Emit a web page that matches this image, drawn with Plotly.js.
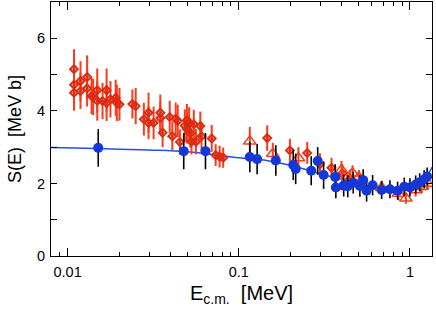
<!DOCTYPE html>
<html>
<head>
<meta charset="utf-8">
<script src="https://cdn.plot.ly/plotly-3.0.1.min.js"></script>
<style>html,body{margin:0;padding:0;background:#fff;}#chart{width:436px;height:311px;}</style>
</head>
<body>
<div id="chart"></div>
<script>
// Red diamonds
const diamondE = [0.0109,0.0109,0.0109,0.0119,0.0119,0.0130,0.0130,0.0138,0.0141,0.0149,0.0149,0.0160,0.0169,0.0169,0.0178,0.0191,0.0194,0.0201,0.0239,0.0250,0.0279,0.0297,0.0297,0.0318,0.0348,0.0348,0.0359,0.0395,0.0409,0.0428,0.0440,0.0453,0.0484,0.0498,0.0498,0.0513,0.0521,0.0529,0.0546,0.0562,0.0596,0.0606,0.0695,0.0733,0.0773,0.0811,0.1465,0.199,0.251,0.298,0.348,0.403,0.446];
const diamondS = [5.15,4.72,4.50,4.82,4.55,4.93,4.62,4.41,4.38,4.57,4.28,4.27,4.57,4.22,4.32,4.36,4.22,4.18,4.19,4.13,3.77,3.95,3.67,3.67,3.95,3.80,3.40,3.83,3.30,3.78,3.72,3.14,3.59,3.74,3.50,3.65,3.39,3.15,3.63,3.15,3.58,3.30,3.24,2.78,2.74,2.71,3.25,2.91,2.84,2.53,2.43,2.28,2.13];
const diamondErr = [0.55,0.5,0.5,0.55,0.5,0.6,0.5,0.5,0.5,0.6,0.55,0.5,0.6,0.5,0.5,0.5,0.5,0.45,0.4,0.5,0.45,0.55,0.45,0.45,0.5,0.45,0.4,0.45,0.4,0.45,0.45,0.35,0.45,0.45,0.4,0.45,0.4,0.35,0.4,0.35,0.4,0.4,0.37,0.3,0.3,0.28,0.35,0.32,0.3,0.3,0.28,0.25,0.25];
// Red triangles
const triE = [0.116,0.158,0.223,0.398,0.462,0.503,0.683,0.855,0.947,1.08,1.17,1.27];
const triS = [3.16,2.82,2.70,2.37,2.28,2.17,1.88,1.72,1.59,1.82,1.91,2.00];
const triErr = [0.4,0.3,0.3,0.25,0.22,0.2,0.18,0.18,0.15,0.18,0.18,0.18];
// Blue circles
const circE = [0.0151,0.0477,0.0639,0.116,0.128,0.1646,0.208,0.215,0.265,0.289,0.313,0.366,0.369,0.41,0.433,0.466,0.51,0.533,0.558,0.605,0.683,0.764,0.847,0.926,1.0,1.08,1.14,1.21,1.26];
const circS = [2.98,2.89,2.89,2.73,2.67,2.63,2.51,2.40,2.35,2.62,2.23,2.18,1.89,1.94,1.92,2.02,1.93,2.09,1.80,1.95,1.82,1.84,1.80,1.91,1.89,1.97,2.03,2.11,2.19];
const circErr = [0.52,0.5,0.5,0.42,0.42,0.42,0.42,0.42,0.4,0.38,0.38,0.35,0.3,0.3,0.3,0.3,0.3,0.3,0.3,0.28,0.25,0.25,0.25,0.25,0.25,0.25,0.25,0.25,0.25];
// Blue curve
const curveE = [0.008,0.015,0.03,0.05,0.1,0.15,0.2,0.27,0.35,0.45,0.55,0.65,0.75,0.85,0.95,1.05,1.15,1.25,1.35];
const curveS = [2.99,2.96,2.92,2.87,2.71,2.62,2.50,2.33,2.18,2.05,1.95,1.88,1.84,1.83,1.85,1.90,2.02,2.20,2.45];
// Axis ticks
const xMajorTicks = [0.01,0.1,1];
const xMajorLabels = ["0.01","0.1","1"];
const xMinorTicks = [0.008,0.009,0.02,0.03,0.04,0.05,0.06,0.07,0.08,0.09,0.2,0.3,0.4,0.5,0.6,0.7,0.8,0.9];
const yMajorTicks = [0,2,4,6];
const yMinorTicks = [1,3,5];

const red = '#f0401e';
const traces = [
  {x: curveE, y: curveS, mode: 'lines', line: {color: '#2050f0', width: 1.5, shape: 'spline'}, hoverinfo: 'skip'},
  {x: diamondE, y: diamondS, mode: 'markers', type: 'scatter',
   error_y: {type: 'data', array: diamondErr, color: '#ff3a1a', thickness: 2, width: 0},
   marker: {symbol: 'diamond-open-dot', size: 6, color: '#dd2a10', line: {width: 2, color: '#dd2a10'}}},
  {x: triE, y: triS, mode: 'markers', type: 'scatter',
   error_y: {type: 'data', array: triErr, color: '#ff3a1a', thickness: 2, width: 0},
   marker: {symbol: 'triangle-up-open', size: 11, color: red, line: {width: 1.5, color: red}}},
  {x: circE, y: circS, mode: 'markers', type: 'scatter',
   error_y: {type: 'data', array: circErr, color: '#000000', thickness: 1.6, width: 0},
   marker: {symbol: 'circle', size: 10, color: '#1438d8', line: {width: 0}}}
];

const fontFam = '"Liberation Sans", Arial, sans-serif';
const layout = {
  width: 436, height: 311,
  margin: {l: 51, r: 4, t: 2, b: 55},
  paper_bgcolor: '#fff', plot_bgcolor: '#fff',
  showlegend: false,
  font: {family: fontFam, size: 14, color: '#000'},
  xaxis: {
    type: 'log', range: [Math.log10(0.008), Math.log10(1.345)],
    tickmode: 'array', tickvals: xMajorTicks, ticktext: xMajorLabels,
    ticks: 'inside', ticklen: 8, tickwidth: 1, tickcolor: '#000',
    minor: {tickmode: 'array', tickvals: xMinorTicks, ticks: 'inside', ticklen: 4, tickwidth: 1, tickcolor: '#000', showgrid: false},
    showline: true, linecolor: '#000', linewidth: 1, mirror: 'ticks',
    showgrid: false, zeroline: false,
    tickfont: {size: 14.5}, ticklabelstandoff: 3,
    title: {text: 'E<sub>c.m.</sub>\u00a0\u00a0[MeV]', font: {size: 20}, standoff: 6}
  },
  yaxis: {
    range: [0, 7],
    tickmode: 'array', tickvals: yMajorTicks,
    ticks: 'inside', ticklen: 6, tickwidth: 1, tickcolor: '#000',
    minor: {tickmode: 'array', tickvals: yMinorTicks, ticks: 'inside', ticklen: 6, tickwidth: 1, tickcolor: '#000', showgrid: false},
    showline: true, linecolor: '#000', linewidth: 1, mirror: 'ticks',
    showgrid: false, zeroline: false,
    tickfont: {size: 14.5}, ticklabelstandoff: 2,
    title: {text: 'S(E)\u00a0\u00a0[MeV b]', font: {size: 18}, standoff: 10}
  }
};
Plotly.newPlot('chart', traces, layout, {displayModeBar: false, staticPlot: true});
</script>
</body>
</html>
